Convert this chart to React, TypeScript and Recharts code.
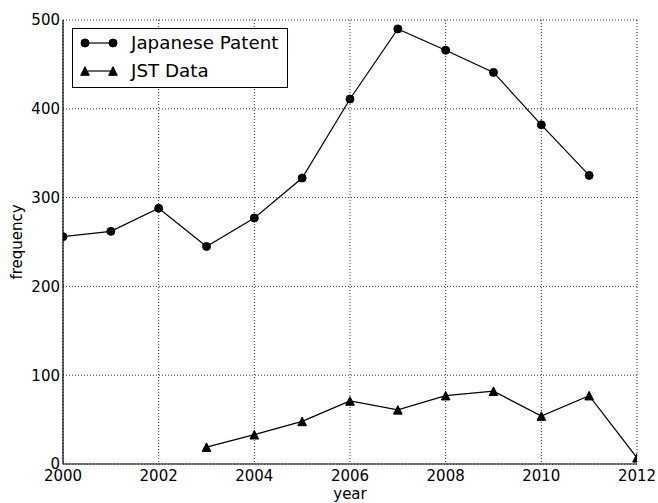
import React from 'react';
import { LineChart, Line, XAxis, YAxis, CartesianGrid, Legend } from 'recharts';

const FONT = '"DejaVu Sans", sans-serif';

const years = [2000, 2001, 2002, 2003, 2004, 2005, 2006, 2007, 2008, 2009, 2010, 2011, 2012];
const japanesePatent = [256, 262, 288, 245, 277, 322, 411, 490, 466, 441, 382, 325, null];
const jstData = [null, null, null, 19, 33, 48, 71, 61, 77, 82, 54, 77, 7];
const xTicks = [2000, 2002, 2004, 2006, 2008, 2010, 2012];
const yTicks = [0, 100, 200, 300, 400, 500];

const data = years.map((year, i) => ({
  year,
  patent: japanesePatent[i],
  jst: jstData[i],
}));

const tickStyle = { fontFamily: FONT, fontSize: 15, fill: '#000' };
const noLabel = () => <g />;

const Circle = ({ cx, cy }: any) => {
  if (cx == null || cy == null) return <g />;
  return <circle cx={cx} cy={cy} r={4} fill="#000" stroke="#000" strokeWidth={1} />;
};

const Triangle = ({ cx, cy }: any) => {
  if (cx == null || cy == null) return <g />;
  const s = 4.3;
  return (
    <polygon
      points={`${cx},${cy - s} ${cx - s},${cy + s} ${cx + s},${cy + s}`}
      fill="#000"
      stroke="#000"
      strokeWidth={1}
    />
  );
};

const legendItems = [
  { name: 'Japanese Patent', Marker: Circle },
  { name: 'JST Data', Marker: Triangle },
];

const LegendBox = () => (
  <div
    style={{
      width: 216,
      height: 60,
      border: '1px solid #000',
      background: '#fff',
      boxSizing: 'border-box',
      fontFamily: FONT,
      fontSize: 18.3,
      color: '#000',
    }}
  >
    {legendItems.map(({ name, Marker }) => (
      <div key={name} style={{ display: 'flex', alignItems: 'center', height: 28 }}>
        <svg width={58} height={28}>
          <line x1={12} y1={14} x2={40} y2={14} stroke="#000" strokeWidth={1.2} />
          <Marker cx={12} cy={14} />
          <Marker cx={40} cy={14} />
        </svg>
        <span style={{ lineHeight: '28px' }}>{name}</span>
      </div>
    ))}
  </div>
);

export default function App() {
  return (
    <div style={{ position: 'absolute', left: 0, top: 0, background: '#fff' }}>
      <LineChart
        width={658}
        height={503}
        data={data}
        margin={{ top: 20, right: 21, bottom: 0, left: 0 }}
      >
        <CartesianGrid
          xAxisId="main"
          yAxisId="main"
          stroke="#000"
          strokeWidth={0.8}
          strokeDasharray="1 2"
        />
        <XAxis
          xAxisId="main"
          dataKey="year"
          type="number"
          domain={[2000, 2012]}
          allowDataOverflow
          ticks={xTicks}
          interval={0}
          height={39}
          tickLine={false}
          tickSize={4}
          tickMargin={2}
          axisLine={{ stroke: '#000', strokeWidth: 1.2 }}
          tick={tickStyle}
          label={{
            value: 'year',
            position: 'insideBottom',
            offset: 4,
            style: { fontFamily: FONT, fontSize: 15, fill: '#000' },
          }}
        />
        <XAxis
          xAxisId="bottomTicks"
          dataKey="year"
          type="number"
          domain={[2000, 2012]}
          allowDataOverflow
          ticks={xTicks}
          interval={0}
          mirror
          height={0}
          axisLine={false}
          tickSize={4}
          tickLine={{ stroke: '#000' }}
          tick={noLabel}
        />
        <XAxis
          xAxisId="top"
          orientation="top"
          dataKey="year"
          type="number"
          domain={[2000, 2012]}
          allowDataOverflow
          ticks={xTicks}
          interval={0}
          mirror
          height={0}
          axisLine={{ stroke: '#000', strokeWidth: 1.2 }}
          tickSize={4}
          tickLine={{ stroke: '#000' }}
          tick={noLabel}
        />
        <YAxis
          yAxisId="main"
          type="number"
          domain={[0, 500]}
          allowDataOverflow
          ticks={yTicks}
          interval={0}
          width={63}
          tickLine={false}
          tickSize={0}
          tickMargin={3}
          axisLine={{ stroke: '#000', strokeWidth: 1.2 }}
          tick={tickStyle}
          label={{
            value: 'frequency',
            angle: -90,
            position: 'insideLeft',
            offset: 17,
            style: { fontFamily: FONT, fontSize: 15, fill: '#000', textAnchor: 'middle' },
          }}
        />
        <YAxis
          yAxisId="leftTicks"
          type="number"
          domain={[0, 500]}
          allowDataOverflow
          ticks={yTicks}
          interval={0}
          mirror
          width={0}
          axisLine={false}
          tickSize={4}
          tickLine={{ stroke: '#000' }}
          tick={noLabel}
        />
        <YAxis
          yAxisId="right"
          orientation="right"
          type="number"
          domain={[0, 500]}
          allowDataOverflow
          ticks={yTicks}
          interval={0}
          mirror
          width={0}
          axisLine={{ stroke: '#000', strokeWidth: 1.2 }}
          tickSize={4}
          tickLine={{ stroke: '#000' }}
          tick={noLabel}
        />
        <Line
          xAxisId="main"
          yAxisId="main"
          dataKey="patent"
          name="Japanese Patent"
          stroke="#000"
          strokeWidth={1.2}
          dot={(p: any) => <Circle key={`c-${p.index}`} cx={p.cx} cy={p.cy} />}
          activeDot={false}
          isAnimationActive={false}
        />
        <Line
          xAxisId="main"
          yAxisId="main"
          dataKey="jst"
          name="JST Data"
          stroke="#000"
          strokeWidth={1.2}
          dot={(p: any) => <Triangle key={`t-${p.index}`} cx={p.cx} cy={p.cy} />}
          activeDot={false}
          isAnimationActive={false}
        />
        <Legend
          content={LegendBox}
          layout="horizontal"
          verticalAlign="middle"
          align="center"
          wrapperStyle={{ left: 72, top: 28, width: 216, height: 60 }}
        />
      </LineChart>
    </div>
  );
}
